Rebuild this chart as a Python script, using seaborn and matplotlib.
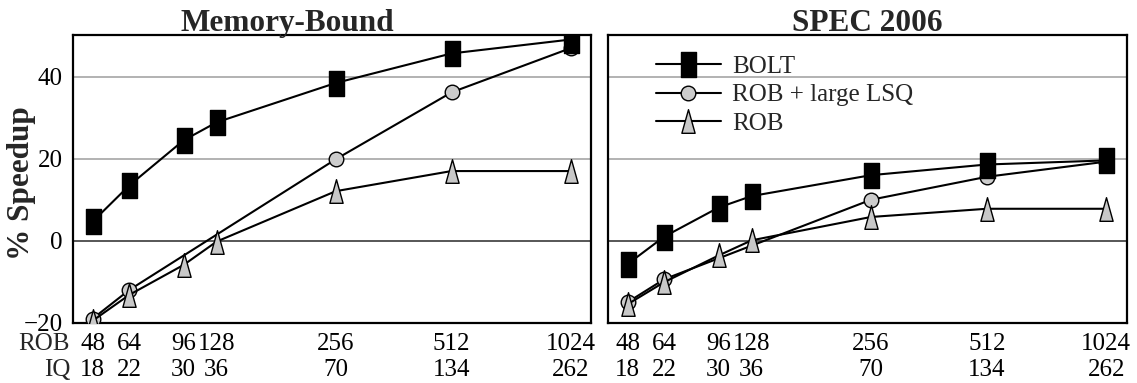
import numpy as np
import pandas as pd
import matplotlib
matplotlib.use("Agg")
import matplotlib.pyplot as plt
from matplotlib.path import Path
from matplotlib import transforms as mtransforms
import seaborn as sns

# Core configurations: reorder-buffer entries and issue-queue entries
rob_sizes = [48, 64, 96, 128, 256, 512, 1024]
iq_sizes = [18, 22, 30, 36, 70, 134, 262]
# horizontal slot of each configuration along the x axis
slot = [-0.05, 0.26, 0.72, 1.0, 2.01, 2.99, 4.0]

# % speedup, memory-bound workloads
mem_bolt = [4.7, 13.5, 24.5, 28.9, 38.5, 45.7, 49.1]
mem_lsq = [-19.0, -12.0, np.nan, np.nan, 19.9, 36.2, 47.0]
mem_rob = [-19.5, -13.2, -5.9, -0.2, 12.1, 17.0, 17.0]

# % speedup, SPEC 2006
spec_bolt = [-5.7, 1.0, 8.1, 10.9, 16.0, 18.6, 19.6]
spec_lsq = [-15.0, -9.4, np.nan, np.nan, 10.0, 15.6, 19.3]
spec_rob = [-15.5, -10.1, -3.6, 0.1, 5.8, 7.8, 7.8]

panels = ["Memory-Bound", "SPEC 2006"]
series = ["BOLT", "ROB + large LSQ", "ROB"]
y_ticks = [-20, 0, 20, 40]

values = {
    ("Memory-Bound", "BOLT"): mem_bolt,
    ("Memory-Bound", "ROB + large LSQ"): mem_lsq,
    ("Memory-Bound", "ROB"): mem_rob,
    ("SPEC 2006", "BOLT"): spec_bolt,
    ("SPEC 2006", "ROB + large LSQ"): spec_lsq,
    ("SPEC 2006", "ROB"): spec_rob,
}

rows = []
for (panel, name), vals in values.items():
    for pos, v in zip(slot, vals):
        rows.append({"panel": panel, "series": name, "slot": pos, "speedup": v})
df = pd.DataFrame(rows)

sns.set_theme(style="white")
plt.rcParams["font.family"] = ["Liberation Serif", "DejaVu Serif"]

# tall rectangle and tall triangle markers
rect = Path([(-0.3, -0.5), (0.3, -0.5), (0.3, 0.5), (-0.3, 0.5), (-0.3, -0.5)], closed=True)
tri = Path([(0.0, 0.5), (-0.28, -0.5), (0.28, -0.5), (0.0, 0.5)], closed=True)

styles = {
    "ROB + large LSQ": dict(marker="o", markersize=10.5, markerfacecolor="#cccccc"),
    "ROB": dict(marker=tri, markersize=17, markerfacecolor="#c8c8c8"),
    "BOLT": dict(marker=rect, markersize=18, markerfacecolor="black"),
}
draw_order = ["ROB + large LSQ", "ROB", "BOLT"]

W, H = 1137, 383
fig = plt.figure(figsize=(W / 100, H / 100), dpi=100)
ax_left = fig.add_axes([72.7 / W, 1 - 322.7 / H, (591 - 72.7) / W, (322.7 - 35) / H])
ax_right = fig.add_axes([607.5 / W, 1 - 322.7 / H, (1126.5 - 607.5) / W, (322.7 - 35) / H])

tick_fs = 18
row_spacing = 1.2
tick_pad = 7.5
tick_labels = [f"{r}\n{q}" for r, q in zip(rob_sizes, iq_sizes)]

for ax, panel in zip([ax_left, ax_right], panels):
    sub = df[df["panel"] == panel]
    for name in draw_order:
        d = sub[sub["series"] == name]
        sns.lineplot(data=d, x="slot", y="speedup", ax=ax, color="black",
                     linewidth=1.5, markeredgecolor="black", markeredgewidth=1.0,
                     label=name, legend=False, zorder=3, **styles[name])
    for yv in (20, 40):
        ax.axhline(yv, color="#a6a6a6", linewidth=1.2, zorder=1)
    ax.axhline(0, color="#3a3a3a", linewidth=1.2, zorder=1)

    ax.set_xlim(-0.22, 4.172)
    ax.set_ylim(-20, 50.2)
    ax.set_xticks(slot)
    ax.set_xticklabels(tick_labels, fontsize=tick_fs, linespacing=row_spacing)
    ax.set_yticks(y_ticks)
    ax.tick_params(axis="both", length=0, colors="black")
    ax.tick_params(axis="x", pad=tick_pad)
    ax.tick_params(axis="y", pad=7, labelsize=tick_fs)
    ax.set_xlabel("")
    ax.set_ylabel("")
    for sp in ax.spines.values():
        sp.set_color("black")
        sp.set_linewidth(1.6)
    ax.grid(False)
    ax.set_title(panel, fontsize=22.5, fontweight="bold", pad=3)

ax_left.title.set_x(0.4135)
ax_right.set_yticklabels([])
ax_left.set_ylabel("% Speedup", fontsize=22.5, fontweight="bold")
ax_left.yaxis.set_label_coords(-0.07, 0.486)

# row captions for the two tick-label lines
cap_tr = mtransforms.offset_copy(ax_left.transAxes, fig=fig, x=0, y=-tick_pad, units="points")
ax_left.text(-0.005, 0, "ROB\nIQ", transform=cap_tr, ha="right", va="top",
             multialignment="right", fontsize=tick_fs, linespacing=row_spacing)

handles, labels = ax_right.get_legend_handles_labels()
lookup = dict(zip(labels, handles))
ax_right.legend([lookup[s] for s in series], series, loc="upper left",
                bbox_to_anchor=(0.093, 0.928), frameon=False, fontsize=tick_fs,
                handlelength=2.6, handletextpad=0.45, labelspacing=0.23,
                borderpad=0, borderaxespad=0, numpoints=1)

fig.savefig("out.png", dpi=100)
